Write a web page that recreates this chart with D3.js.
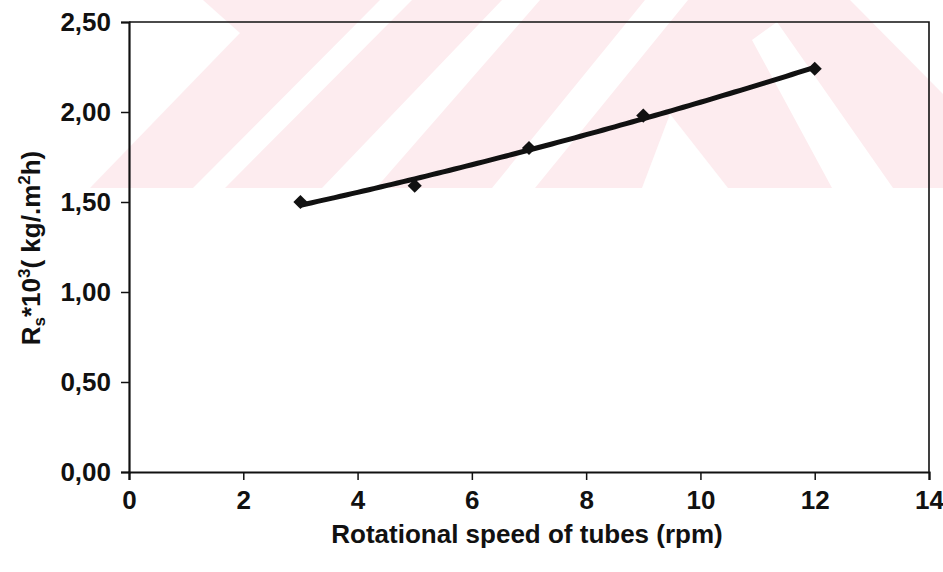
<!DOCTYPE html>
<html>

<head>
    <meta charset=utf-8 />
    <script src="https://cdn.jsdelivr.net/npm/d3@7"></script>
    <title>Rs vs rotational speed</title>
    <style>
        html,
        body {
            margin: 0;
            background: #fff;
        }

        text {
            font-family: "Liberation Sans", Arial, sans-serif;
            font-weight: bold;
            fill: #111;
        }
    </style>
</head>

<body>
    <div id="svg-canvas"></div>
    <script>
        // data
        var speeds = [3, 5, 7, 9, 12];
        var rsValues = [1.50, 1.59, 1.80, 1.98, 2.24];
        var xTicks = [0, 2, 4, 6, 8, 10, 12, 14];
        var yTicks = [0, 0.5, 1.0, 1.5, 2.0, 2.5];

        var W = 943, H = 572;
        var margin = { top: 22, right: 14, bottom: 100, left: 129 };
        var width = W - margin.left - margin.right;
        var height = H - margin.top - margin.bottom;

        var svg = d3.select('#svg-canvas').append('svg')
            .attr('width', W)
            .attr('height', H);

        // faint pink watermark at the top (scan background)
        var wm = svg.append('g');
        wm.append('rect')
            .attr('x', 80).attr('y', 0)
            .attr('width', W - 80).attr('height', 188)
            .attr('fill', '#fdecef');
        var holes = [
            [[80, 0], [203, 0], [240, 33], [90, 188], [80, 188]],
            [[380, 0], [412, 0], [225, 188], [193, 188]],
            [[502, 0], [540, 0], [376, 188], [322, 188]],
            [[645, 0], [688, 0], [535, 188], [492, 188]],
            [[670, 114], [728, 188], [642, 188]],
            [[752, 40], [777, 22], [893, 188], [832, 188]],
            [[850, 0], [943, 0], [943, 94]]
        ];
        wm.selectAll('polygon').data(holes).enter().append('polygon')
            .attr('points', d => d.map(p => p.join(',')).join(' '))
            .attr('fill', '#fff');

        var g = svg.append('g')
            .attr('transform', 'translate(' + margin.left + ',' + margin.top + ')');

        var x = d3.scaleLinear().domain([0, 14]).range([0, width]);
        var y = d3.scaleLinear().domain([0, 2.5]).range([height, 0]);

        // frame (top & right)
        g.append('path')
            .attr('d', 'M0,0H' + width + 'V' + height)
            .attr('fill', 'none')
            .attr('stroke', '#111')
            .attr('stroke-width', 1.6);

        var fmt = d => d3.format('.2f')(d).replace('.', ',');

        var axisY = g.append('g')
            .call(d3.axisLeft(y).tickValues(yTicks).tickFormat(fmt).tickSizeOuter(0).tickSize(8).tickPadding(10));

        var axisX = g.append('g')
            .attr('transform', 'translate(0,' + height + ')')
            .call(d3.axisBottom(x).tickValues(xTicks).tickSizeOuter(0).tickSize(8).tickPadding(11));

        [axisX, axisY].forEach(function (axis) {
            axis.select('.domain').attr('stroke', '#111').attr('stroke-width', 2.2);
            axis.selectAll('line').attr('stroke', '#111').attr('stroke-width', 1.5);
            axis.selectAll('text').attr('font-size', 26).attr('fill', '#111');
        });

        // quadratic least-squares trendline through the points
        function polyFit2(xs, ys) {
            var n = xs.length, s = [0, 0, 0, 0, 0], t = [0, 0, 0];
            for (var i = 0; i < n; i++) {
                for (var k = 0; k < 5; k++) s[k] += Math.pow(xs[i], k);
                for (var k = 0; k < 3; k++) t[k] += ys[i] * Math.pow(xs[i], k);
            }
            var A = [[s[0], s[1], s[2], t[0]], [s[1], s[2], s[3], t[1]], [s[2], s[3], s[4], t[2]]];
            for (var c = 0; c < 3; c++) {
                for (var r = c + 1; r < 3; r++) {
                    var f = A[r][c] / A[c][c];
                    for (var k = c; k < 4; k++) A[r][k] -= f * A[c][k];
                }
            }
            var b = [0, 0, 0];
            for (var r = 2; r >= 0; r--) {
                var v = A[r][3];
                for (var k = r + 1; k < 3; k++) v -= A[r][k] * b[k];
                b[r] = v / A[r][r];
            }
            return b;
        }
        var coef = polyFit2(speeds, rsValues);
        var trend = d3.range(speeds[0], speeds[speeds.length - 1] + 0.001, 0.1)
            .map(v => [v, coef[0] + coef[1] * v + coef[2] * v * v]);

        g.append('path')
            .datum(trend)
            .attr('fill', 'none')
            .attr('stroke', '#111')
            .attr('stroke-width', 5)
            .attr('d', d3.line().x(d => x(d[0])).y(d => y(d[1])));

        g.selectAll('.pt')
            .data(speeds.map((s, i) => [s, rsValues[i]]))
            .enter().append('path')
            .attr('class', 'pt')
            .attr('d', d3.symbol(d3.symbolSquare, 100))
            .attr('transform', d => 'translate(' + x(d[0]) + ',' + y(d[1]) + ') rotate(45)')
            .attr('fill', '#111');

        // axis titles
        svg.append('text')
            .attr('x', 527)
            .attr('y', 543)
            .attr('text-anchor', 'middle')
            .attr('font-size', 26)
            .text('Rotational speed of tubes (rpm)');

        var yt = svg.append('text')
            .attr('transform', 'translate(40,248) rotate(-90)')
            .attr('text-anchor', 'middle')
            .attr('font-size', 26);
        yt.append('tspan').text('R');
        yt.append('tspan').attr('font-size', 17).attr('dy', 5).text('s');
        yt.append('tspan').attr('dy', -5).text('*10');
        yt.append('tspan').attr('font-size', 17).attr('dy', -10).text('3');
        yt.append('tspan').attr('dy', 10).text('( kg/.m');
        yt.append('tspan').attr('font-size', 17).attr('dy', -10).text('2');
        yt.append('tspan').attr('dy', 10).text('h)');
    </script>
</body>

</html>
